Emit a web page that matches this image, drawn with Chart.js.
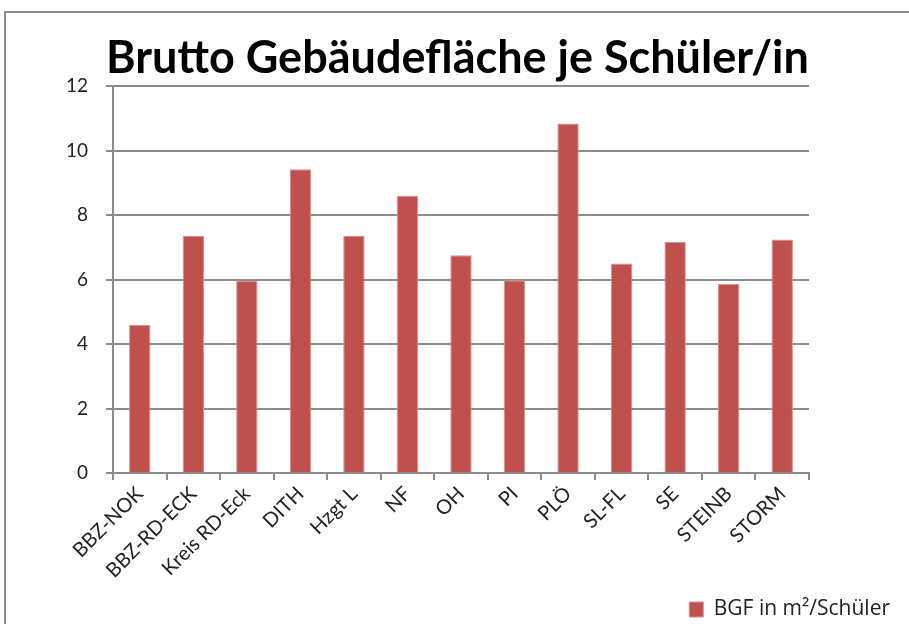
<!DOCTYPE html>
<html><head><meta charset="utf-8">
<script src="https://cdn.jsdelivr.net/npm/chart.js@4"></script>
<style>html,body{margin:0;padding:0;background:#fff}#wrap{position:relative;width:909px;height:624px}</style>
</head><body><div id="wrap"><canvas id="c" width="909" height="624"></canvas></div>
<script>
const titleText = 'Brutto Gebäudefläche je Schüler/in';
const categories = ['BBZ-NOK','BBZ-RD-ECK','Kreis RD-Eck','DITH','Hzgt L','NF','OH','PI','PLÖ','SL-FL','SE','STEINB','STORM'];
const seriesName = 'BGF in m²/Schüler';
const values = [4.6, 7.35, 5.95, 9.42, 7.35, 8.6, 6.75, 5.98, 10.84, 6.5, 7.17, 5.87, 7.24];
const yTicks = [0, 2, 4, 6, 8, 10, 12];

const frame = {
  id: 'frame',
  beforeDraw(chart) {
    const ctx = chart.ctx;
    ctx.save();
    ctx.fillStyle = '#fff';
    ctx.fillRect(0, 0, chart.width, chart.height);
    ctx.strokeStyle = '#8c8c8c';
    ctx.lineWidth = 2;
    ctx.beginPath();
    ctx.moveTo(5, 630); ctx.lineTo(5, 12); ctx.lineTo(915, 12);
    ctx.stroke();
    ctx.restore();
  }
};

new Chart(document.getElementById('c'), {
  type: 'bar',
  data: {
    labels: categories,
    datasets: [{
      label: seriesName,
      data: values,
      backgroundColor: '#C0504D',
      borderColor: '#d8918f',
      borderWidth: 1,
      categoryPercentage: 1,
      barPercentage: 0.4
    }]
  },
  options: {
    responsive: false,
    animation: false,
    devicePixelRatio: 1,
    layout: { padding: { left: 20, right: 14, top: 31, bottom: -6 } },
    plugins: {
      title: {
        display: true, text: titleText, color: '#000',
        font: { family: 'Lato', size: 45, weight: 'bold' },
        padding: { top: 0, bottom: 1 }
      },
      legend: {
        display: true, position: 'bottom', align: 'end',
        labels: {
          color: '#222', font: { family: 'Open Sans', size: 21 },
          boxWidth: 14, boxHeight: 15, padding: 5
        }
      },
      tooltip: { enabled: false }
    },
    scales: {
      x: {
        afterFit(axis) { axis.height = 121; },
        grid: { display: true, drawOnChartArea: false, drawTicks: true, tickLength: 7, color: '#8c8c8c', lineWidth: 2, offset: true },
        border: { display: true, color: '#8c8c8c', width: 2 },
        ticks: { color: '#222', font: { family: 'Lato', size: 20 }, maxRotation: 45, minRotation: 45, padding: 2, autoSkip: false }
      },
      y: {
        min: 0, max: 12,
        afterBuildTicks(axis) { axis.ticks = yTicks.map(v => ({ value: v })); },
        afterFit(axis) { axis.width = 93; },
        grid: { color: '#8c8c8c', lineWidth: 2, tickLength: 7, drawTicks: true },
        border: { display: true, color: '#8c8c8c', width: 2 },
        ticks: { color: '#222', font: { family: 'Lato', size: 19 }, padding: 18 }
      },
      r2: {
        type: 'linear', position: 'right', display: true,
        afterFit(axis) { axis.width = 86; },
        grid: { display: false }, border: { display: false },
        ticks: { display: false }
      }
    }
  },
  plugins: [frame]
});
</script></body></html>
